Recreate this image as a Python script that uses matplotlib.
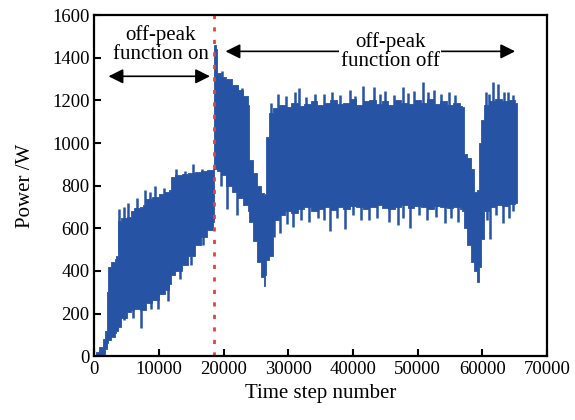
import numpy as np
from matplotlib import pyplot as plt

plt.rcParams['font.family'] = ['Liberation Serif', 'DejaVu Serif']

# envelope of the power trace (time step, W)
env_x = [0, 300, 800, 1300, 1700, 1900, 2100, 2600, 3200, 3400, 3600, 4200,
         5000, 5600, 6200, 7000, 7500, 8000, 9000, 10000, 11000, 11600,
         11800, 12500, 13500, 14500, 15500, 16500, 17500, 18350, 18500,
         18800, 19000, 19600, 20300, 21300, 22300, 23000, 23700, 23900,
         24600, 25200, 25800, 26200, 26400, 26600, 27000, 27600, 28500,
         29500, 30500, 31500, 32500, 33500, 34500, 35500, 36500, 37500,
         38500, 39500, 40500, 41500, 42500, 43500, 44500, 45500, 46500,
         47500, 48500, 49500, 50500, 51500, 52500, 53500, 54500, 55500,
         56500, 56900, 57200, 57700, 58200, 58700, 59200, 59500, 59800,
         60300, 61000, 62000, 63000, 64000, 65000, 65400]
env_hi = [0, 20, 45, 80, 120, 300, 420, 440, 455, 470, 635, 650,
          655, 680, 695, 700, 710, 735, 745, 760, 770, 780,
          840, 850, 855, 860, 865, 870, 875, 880, 1460,
          1440, 1330, 1310, 1300, 1270, 1250, 1220, 1180, 920,
          860, 800, 765, 757, 760, 1030, 1140, 1165, 1180,
          1170, 1190, 1175, 1185, 1195, 1180, 1190, 1200, 1185,
          1190, 1205, 1180, 1195, 1200, 1185, 1195, 1180, 1200,
          1190, 1185, 1200, 1190, 1205, 1185, 1195, 1180, 1190,
          1175, 1170, 950, 930, 880, 770, 780, 1000, 1110,
          1180, 1195, 1205, 1195, 1200, 1190, 1185]
env_lo = [0, 0, 0, 10, 35, 60, 75, 90, 110, 120, 135, 180,
          205, 215, 220, 215, 215, 250, 265, 290, 310, 340,
          380, 400, 430, 470, 520, 560, 590, 630, 880,
          880, 870, 850, 800, 770, 740, 710, 680, 630,
          540, 440, 370, 330, 380, 450, 470, 640, 660,
          680, 670, 690, 700, 680, 690, 700, 685, 700,
          690, 705, 700, 690, 700, 710, 695, 690, 700,
          710, 695, 705, 700, 690, 705, 700, 695, 700,
          690, 680, 600, 520, 440, 400, 350, 420, 550,
          680, 700, 710, 705, 715, 720, 720]

# individual spikes above the envelope and dips below it
spike_x = [3800, 4600, 5200, 6600, 7800, 8600, 9400, 10800, 12600, 14000,
           15200, 16600, 19800, 21000, 22000, 22800, 27400, 28400, 29600,
           31000, 31600, 32800, 34200, 35600, 36800, 38000, 39600, 40400,
           41600, 43200, 44200, 45000, 46400, 47700, 48600, 49500, 50900,
           51600, 52500, 53600, 54800, 55800, 60600, 61000, 61700, 62500,
           63400, 64000, 64800]
spike_hi = [690, 700, 720, 740, 780, 770, 800, 790, 880, 870,
            900, 880, 1340, 1290, 1270, 1260, 1190, 1230, 1220,
            1240, 1256, 1215, 1228, 1230, 1240, 1225, 1250, 1220,
            1266, 1262, 1230, 1245, 1225, 1262, 1235, 1245, 1285,
            1240, 1250, 1230, 1240, 1225, 1240, 1230, 1285, 1275,
            1240, 1240, 1225]
dip_x = [4600, 6000, 7300, 8800, 9800, 11400, 13200, 15000, 16800, 19600,
         20600, 22000, 27800, 28800, 29800, 30800, 32000, 33200, 34600,
         35600, 36500, 37600, 38800, 40000, 41200, 42500, 43800, 45600,
         47000, 47800, 48900, 50200, 51500, 52800, 54200, 55200, 56200,
         60800, 61200, 62200, 63200, 64200, 64800]
dip_lo = [170, 180, 130, 220, 220, 260, 360, 430, 520, 800,
          690, 660, 560, 578, 620, 607, 640, 630, 650,
          640, 585, 650, 597, 660, 640, 640, 650, 630,
          617, 650, 602, 660, 640, 655, 625, 650, 630,
          640, 550, 660, 626, 650, 680]

sep_x = 18450
x_ticks = [0, 10000, 20000, 30000, 40000, 50000, 60000, 70000]
y_ticks = [0, 200, 400, 600, 800, 1000, 1200, 1400, 1600]

blue = '#2753a5'

fig = plt.figure(figsize=(5.75, 4.2), dpi=100)
ax = fig.add_axes([0.164, 0.152, 0.787, 0.812])

ax.fill_between(env_x, env_lo, env_hi, step='post', color=blue,
                lw=0.6, edgecolor=blue)
hi_at = np.interp(spike_x, env_x, env_hi)
ax.vlines(spike_x, hi_at - 150, spike_hi, color=blue, lw=1.8)
lo_at = np.interp(dip_x, env_x, env_lo)
ax.vlines(dip_x, dip_lo, lo_at + 150, color=blue, lw=1.8)

ax.axvline(sep_x, color='#e8413c', lw=2, linestyle=(0, (1.5, 3)))

# annotations
ax.annotate('', xy=(2200, 1313), xytext=(17900, 1313),
            arrowprops=dict(arrowstyle='<|-|>', color='black', lw=1.2,
                            mutation_scale=22, shrinkA=0, shrinkB=0))
ax.text(10300, 1464, 'off-peak\nfunction on', ha='center', va='center',
        fontsize=15, linespacing=1.0)
ax.annotate('', xy=(20300, 1430), xytext=(65100, 1430),
            arrowprops=dict(arrowstyle='<|-|>', color='black', lw=1.2,
                            mutation_scale=22, shrinkA=0, shrinkB=0))
ax.text(45800, 1430, 'off-peak\nfunction off', ha='center', va='center',
        fontsize=15, linespacing=1.0,
        bbox=dict(facecolor='white', edgecolor='none', pad=1))

ax.set_xlim(0, 70000)
ax.set_ylim(0, 1600)
ax.set_xticks(x_ticks)
ax.set_yticks(y_ticks)
ax.tick_params(direction='in', length=5, width=1.5, labelsize=13.5,
               top=False, right=False)
for s in ax.spines.values():
    s.set_linewidth(1.6)

ax.set_xlabel('Time step number', fontsize=15, labelpad=4)
ax.set_ylabel('Power /W', fontsize=15, labelpad=12)

plt.savefig('out.png', dpi=100)
